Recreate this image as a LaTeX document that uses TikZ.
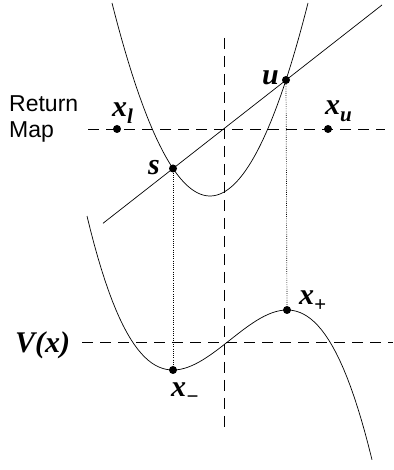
\documentclass[tikz,border=0pt]{standalone}
\usepackage{fontspec}
\setmainfont{Liberation Serif}
\newfontfamily\mapfont{Liberation Sans}
\newcommand{\subtxt}[1]{\raisebox{-7pt}{\fontsize{21}{21}\selectfont#1}}
\begin{document}
\begin{tikzpicture}[x=1pt,y=1pt,
  curve/.style={line width=0.7pt},
  guide/.style={line width=0.7pt,dash pattern=on 11pt off 7pt},
  proj/.style={line width=0.7pt,dash pattern=on 0.8pt off 1.4pt},
  dotpt/.style={circle,fill,inner sep=0pt,minimum size=8pt},
  lab/.style={inner sep=0pt,anchor=base west,font=\fontsize{30}{30}\selectfont\bfseries\itshape},
  maplab/.style={inner sep=0pt,anchor=west,align=left,font={\fontsize{23}{26}\mapfont\selectfont}}]
\useasboundingbox(0,0)rectangle(393,470);
% guide lines
\coordinate(vt)at(224,432);\coordinate(vb)at(224,40);
\coordinate(rl)at(88,341);\coordinate(rr)at(385,341);
\coordinate(pl)at(82,128);\coordinate(pr)at(393,128);
\draw[guide](vt)--(vb);\draw[guide](rl)--(rr);\draw[guide](pl)--(pr);
% return map and potential
\draw[curve]plot[domain=112:308,samples=80](\x,{274+0.0201*(\x-210)^2});
\coordinate(lo)at(103,246.7);\coordinate(hi)at(382,465);
\draw[curve](lo)--(hi);
\draw[curve]plot[domain=87:372,samples=80](\x,{130-81*(((\x-230)/100)^3-0.9747*((\x-230)/100))});
% points
\node[dotpt](s)at(173,301.5){};\node[dotpt](u)at(286,390){};
\node[dotpt](xl)at(117,341){};\node[dotpt](xu)at(328,341){};
\node[dotpt](xm)at(173,100){};\node[dotpt](xp)at(287,160){};
\draw[proj](s)--(xm);\draw[proj](u)--(xp);
% labels
\node[maplab](rm)at(9,351){Return\\Map};
\node[lab](sl)at(148,295){s};\node[lab](ul)at(262,385){u};
\node[lab](xll)at(112,353){x\subtxt{l}};\node[lab](xul)at(325,355){x\subtxt{u}};
\node[lab](xml)at(171,73){x\subtxt{−}};\node[lab](xpl)at(299,165){x\subtxt{+}};
\node[lab](vl)at(15,117){V(x)};
\end{tikzpicture}
\end{document}
